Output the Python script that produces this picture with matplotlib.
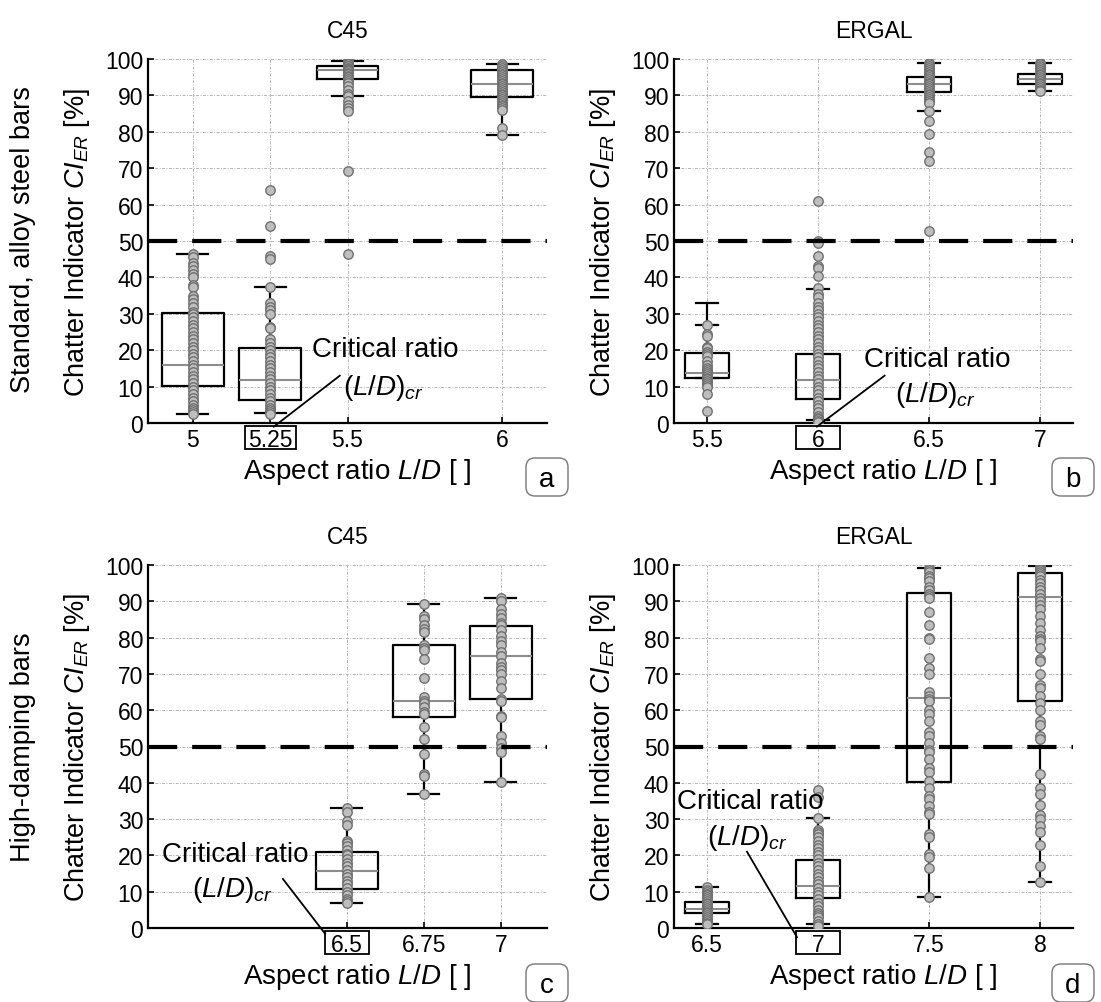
import numpy as np
import matplotlib
matplotlib.use("Agg")
import matplotlib.pyplot as plt
from matplotlib.patches import Rectangle, FancyBboxPatch
from matplotlib.transforms import IdentityTransform

plt.rcParams["font.family"] = ["Liberation Sans", "DejaVu Sans"]
plt.rcParams["mathtext.fontset"] = "custom"
plt.rcParams["mathtext.rm"] = "Liberation Sans"
plt.rcParams["mathtext.it"] = "Liberation Sans:italic"

# ---- panel a: C45, standard bars ----
A_POS = [5, 5.25, 5.5, 6]
A_LBL = ["5", "5.25", "5.5", "6"]
A_Q1 = [10.2, 6.2, 94.5, 89.5]
A_MED = [16.0, 11.7, 97.0, 93.0]
A_Q3 = [30.3, 20.5, 98.2, 97.0]
A_LO = [2.5, 2.8, 89.8, 79.0]
A_HI = [46.5, 37.5, 99.5, 98.5]
A_PTS = [
    [46.5, 45.5, 44, 43, 42, 41, 40, 38, 37.5, 35, 34, 33, 32, 30.5, 30, 29, 28, 27, 26,
     25, 24, 23, 22, 21, 20, 19, 18, 17, 16, 15, 14, 13, 12, 11, 10, 9, 8, 7, 6, 5, 4,
     3.5, 3, 2.5],
    [64, 54, 46, 45, 37.5, 33, 32, 31, 30, 26.5, 26, 23, 22, 21, 20, 19, 18, 17, 16, 15,
     14, 13, 12, 11, 10, 9, 8, 7, 6, 5, 4, 3.5, 3, 2.5],
    [99.5, 99.2, 98.8, 98.5, 98.2, 98, 97.6, 97.3, 97, 96.6, 96.2, 95.8, 95.4, 95, 94.5,
     94, 93.3, 92.5, 91.5, 90.5, 89.8, 88.5, 87.5, 86.5, 85.8, 69.3, 46.4],
    [98.5, 98, 97.5, 97, 96.5, 96, 95.5, 95, 94.5, 94, 93.5, 93, 92.5, 92, 91.5, 91, 90.5,
     90, 89.5, 89, 88.5, 88, 87.5, 87, 86.5, 86, 81, 79],
]

# ---- panel b: ERGAL, standard bars ----
B_POS = [5.5, 6, 6.5, 7]
B_LBL = ["5.5", "6", "6.5", "7"]
B_Q1 = [12.3, 6.5, 90.8, 93.0]
B_MED = [13.8, 11.8, 93.0, 94.5]
B_Q3 = [19.3, 19.0, 95.0, 96.0]
B_LO = [12.3, 0.8, 85.8, 91.3]
B_HI = [33.0, 36.8, 99.0, 99.0]
B_EXTRA_CAP = [27.0, None, None, None]
B_PTS = [
    [27, 24.5, 24, 21, 20.5, 19.5, 19, 18.5, 17, 16, 15, 14.5, 14, 13.5, 13, 12.5, 12,
     11.5, 11, 10.5, 10, 8, 3.3],
    [61, 50, 49.5, 46, 43, 42.5, 40.5, 37, 35.5, 34.5, 33, 32, 31, 30, 29, 28, 27, 26, 25,
     24, 23, 22, 21, 20, 19, 18, 17, 16, 15, 14, 13, 12, 11, 10, 9, 8, 7, 6, 5, 4, 3, 2,
     1.5, 1, 0.5, 0.3],
    [99, 98.5, 98, 97.5, 97, 96.5, 96, 95.5, 95, 94.5, 94, 93.5, 93, 92.5, 92, 91.5, 91,
     90.5, 90, 89.5, 89, 88.5, 88, 85.8, 83, 79.5, 74.5, 72, 52.7],
    [99, 98.5, 98, 97.5, 97, 96.5, 96, 95.5, 95, 94.5, 94, 93.5, 93, 92.5, 92, 91.5, 91.3],
]

# ---- panel c: C45, high-damping bars ----
C_POS = [6.5, 6.75, 7]
C_LBL = ["6.5", "6.75", "7"]
C_Q1 = [10.8, 58.0, 63.0]
C_MED = [15.8, 62.5, 75.0]
C_Q3 = [21.0, 78.0, 83.3]
C_LO = [7.0, 36.8, 40.3]
C_HI = [33.0, 89.3, 90.8]
C_PTS = [
    [33, 32, 29.5, 28.5, 24, 23.5, 22.5, 21.5, 20.5, 20, 19, 18, 17, 16, 15, 14, 13, 12,
     11, 10, 9, 8, 7.5, 7],
    [89.3, 86, 85, 83.5, 82.5, 81.5, 78, 77, 76.5, 74, 69, 63.5, 62.5, 62, 61, 59.5, 59,
     55.5, 52, 48, 42.5, 42, 37],
    [90.8, 90, 88, 86.5, 85.5, 84, 83.5, 82, 80.5, 79, 78, 76, 75, 73, 72, 71, 70, 68, 66,
     63, 62.5, 58.5, 58, 53, 51, 49.5, 48.5, 40.3],
]

# ---- panel d: ERGAL, high-damping bars ----
D_POS = [6.5, 7, 7.5, 8]
D_LBL = ["6.5", "7", "7.5", "8"]
D_Q1 = [4.0, 8.2, 40.3, 62.5]
D_MED = [5.2, 11.7, 63.3, 91.2]
D_Q3 = [7.2, 18.8, 92.3, 97.8]
D_LO = [1.2, 1.0, 8.5, 12.7]
D_HI = [11.2, 30.2, 99.3, 99.7]
D_PTS = [
    [11.2, 10.5, 10, 9.5, 9, 8.5, 8, 7.5, 7, 6.5, 6, 5.5, 5, 4.5, 4, 3.5, 3, 2.5, 2, 1.5,
     1.2],
    [38, 36, 30.2, 27, 26.5, 26, 25, 24, 23, 22, 21, 20, 19, 18, 17, 16, 15, 14, 13, 12,
     11, 10, 9, 8, 7, 6, 5, 4, 3.5, 3, 2, 1, 0.5],
    [99.3, 98.5, 98, 97, 96.5, 95.5, 94, 93, 92, 91.5, 91, 87, 83.5, 80, 79.5, 74.5, 71.5,
     70, 65, 64, 63, 62.5, 60, 59, 57, 54, 53, 51, 49, 48.5, 46.5, 44, 43, 40.5, 38.5,
     36.5, 35.5, 33.5, 32, 31.5, 26, 25, 20.5, 19.5, 16.5, 8.5],
    [99.7, 99.5, 99, 98.5, 98, 97.5, 97, 96, 95, 94, 93, 92, 91, 90, 89, 88, 86, 84, 82,
     80.5, 79.5, 79, 77, 74, 73.5, 70, 67, 66, 64, 62, 60, 57, 56, 53, 52, 42.5, 38.5,
     37, 34, 31, 30, 28, 26.5, 23, 17, 12.7],
]

W, H = 1101, 1003
fig = plt.figure(figsize=(W / 100, H / 100), dpi=100)


def px_axes(l, t, r, b):
    return fig.add_axes([l / W, 1 - b / H, (r - l) / W, (b - t) / H])


def draw_panel(ax, pos, lbl, q1, med, q3, lo, hi, pts, width, xlim, extra_caps=None):
    stats = [dict(q1=a, med=m, q3=c, whislo=l, whishi=h)
             for a, m, c, l, h in zip(q1, med, q3, lo, hi)]
    ax.bxp(stats, positions=pos, widths=width, showfliers=False, manage_ticks=False,
           boxprops=dict(color="black", lw=1.6),
           whiskerprops=dict(color="black", lw=1.6),
           capprops=dict(color="black", lw=1.6),
           medianprops=dict(color="#8c8c8c", lw=1.5), zorder=2)
    if extra_caps:
        for x, c in zip(pos, extra_caps):
            if c is not None:
                ax.plot([x - width / 4, x + width / 4], [c, c], color="black", lw=1.6,
                        zorder=2)
    for x, p in zip(pos, pts):
        ax.plot(np.full(len(p), x), p, "o", ms=6.8, mfc="#bebebe", mec="#707070",
                mew=1.0, zorder=3)
    ax.axhline(50, color="black", lw=3, dashes=(7, 3.6), zorder=4)
    ax.set_xlim(*xlim)
    ax.set_ylim(0, 100)
    ax.set_yticks(np.arange(0, 101, 10))
    ax.set_xticks(pos, labels=lbl)
    ax.grid(True, color="#b4b4b4", lw=0.7, linestyle=(0, (3, 1.5, 1, 1.5)), zorder=0)
    ax.set_axisbelow(True)
    for s in ("top", "right"):
        ax.spines[s].set_visible(False)
    for s in ("left", "bottom"):
        ax.spines[s].set_linewidth(1.6)
    ax.tick_params(direction="in", length=4, width=1.2, labelsize=16.5)
    ax.tick_params(axis="x", pad=3.5)
    ax.set_xlabel("Aspect ratio $L/D$ [ ]", fontsize=20)
    ax.xaxis.label.set_va("center")
    ax.xaxis.set_label_coords(0.524, -0.132)
    ax.set_ylabel("Chatter Indicator $CI_{ER}$ [%]", fontsize=19.5)
    ax.yaxis.label.set_va("center")
    ax.yaxis.set_label_coords(-0.178, 0.5)


def critical(ax, tx, ty, sx, sy, line):
    ax.text(tx, ty, "Critical ratio", fontsize=20, ha="left", va="center", zorder=5)
    ax.text(sx, sy, "$(L/D)_{cr}$", fontsize=20, ha="center", va="center", zorder=5)
    ax.plot(line[0], line[1], color="black", lw=1.3, clip_on=False, zorder=5)


ax_a = px_axes(148, 60, 547, 424)
draw_panel(ax_a, A_POS, A_LBL, A_Q1, A_MED, A_Q3, A_LO, A_HI, A_PTS, 0.2,
           (4.855, 6.145))
critical(ax_a, 5.385, 20.3, 5.615, 10, ([5.262, 5.475], [-1.0, 13]))
ax_a.set_title("C45", fontsize=16.5, pad=16)

ax_b = px_axes(674, 60, 1073, 424)
draw_panel(ax_b, B_POS, B_LBL, B_Q1, B_MED, B_Q3, B_LO, B_HI, B_PTS, 0.195,
           (5.351, 7.149), B_EXTRA_CAP)
critical(ax_b, 6.205, 17.6, 6.53, 8, ([5.995, 6.30], [-1.0, 13]))
ax_b.set_title("ERGAL", fontsize=16.5, pad=16)

ax_c = px_axes(148, 566, 547, 929)
draw_panel(ax_c, C_POS, C_LBL, C_Q1, C_MED, C_Q3, C_LO, C_HI, C_PTS, 0.2,
           (5.855, 7.15))
critical(ax_c, 5.9, 20.4, 6.13, 10.7, ([6.293, 6.43], [13.5, -1.6]))
ax_c.set_title("C45", fontsize=16.5, pad=16)

ax_d = px_axes(674, 566, 1073, 929)
draw_panel(ax_d, D_POS, D_LBL, D_Q1, D_MED, D_Q3, D_LO, D_HI, D_PTS, 0.195,
           (6.351, 8.149))
critical(ax_d, 6.365, 35, 6.68, 25, ([6.68, 6.905], [21, -2.5]))
ax_d.set_title("ERGAL", fontsize=16.5, pad=16)

# row labels
fig.text(23 / W, 1 - 240 / H, "Standard, alloy steel bars", rotation=90, fontsize=19.5,
         ha="center", va="center")
fig.text(23 / W, 1 - 747 / H, "High-damping bars", rotation=90, fontsize=19.5,
         ha="center", va="center")

# panel letters in fixed-size rounded boxes
for letter, (x, y) in zip("abcd", [(547, 478), (1073, 478), (547, 984), (1073, 984)]):
    fig.add_artist(FancyBboxPatch((x - 21, H - y - 19), 42, 38,
                                  boxstyle="round,pad=0,rounding_size=9",
                                  facecolor="white", edgecolor="#777777", lw=1.0,
                                  transform=IdentityTransform()))
    fig.text(x / W, 1 - (y + 2) / H, letter, fontsize=20, ha="center", va="center")

# boxes around the critical tick labels: 3 px below the axis, 23 px tall
for ax, xval, boxw in [(ax_a, A_POS[1], 51), (ax_b, B_POS[1], 44),
                       (ax_c, C_POS[0], 44), (ax_d, D_POS[1], 44)]:
    cx, cy = ax.transData.transform((xval, 0))
    fig.add_artist(Rectangle((cx - boxw / 2, cy - 26), boxw, 23, fill=False,
                             edgecolor="black", lw=1.3, transform=IdentityTransform()))

fig.savefig("out.png", dpi=100)
